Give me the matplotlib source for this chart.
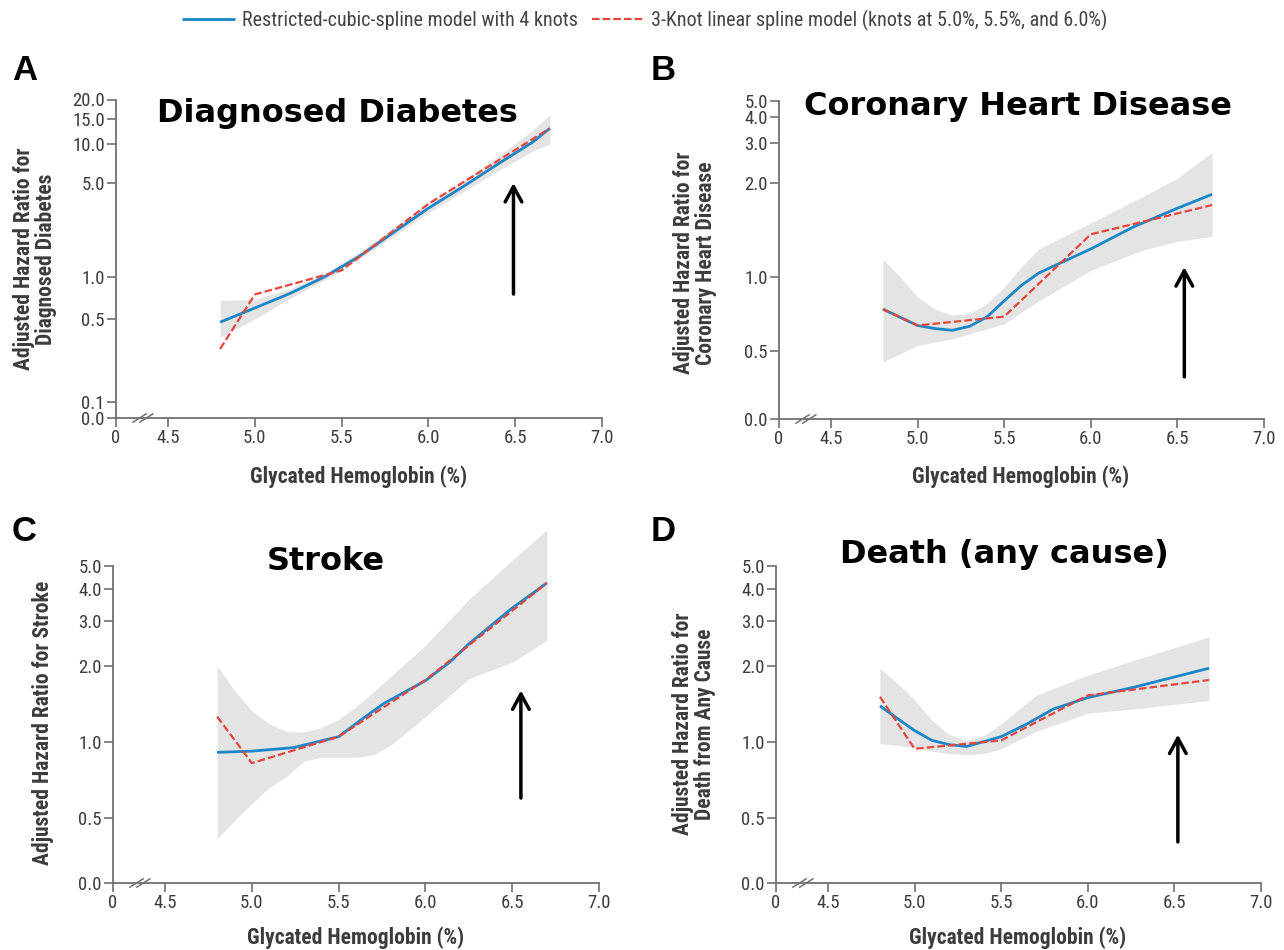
import numpy as np
import matplotlib
matplotlib.use("Agg")
import matplotlib.pyplot as plt
from matplotlib import font_manager as fm

# ---------------- data ----------------
x_ticks = [0, 4.5, 5.0, 5.5, 6.0, 6.5, 7.0]
x_ticklabels = ["0", "4.5", "5.0", "5.5", "6.0", "6.5", "7.0"]

# Panel A - Diagnosed diabetes
A_yticks = [0.0, 0.1, 0.5, 1.0, 5.0, 10.0, 15.0, 20.0]
A_ylabels = ["0.0", "0.1", "0.5", "1.0", "5.0", "10.0", "15.0", "20.0"]
A_rcs_x = [4.8, 5.0, 5.2, 5.4, 5.6, 5.8, 6.0, 6.2, 6.4, 6.6, 6.7]
A_rcs_y = [0.47, 0.60, 0.76, 1.00, 1.42, 2.15, 3.25, 4.7, 7.0, 10.3, 12.9]
A_lin_x = [4.8, 5.0, 5.5, 6.0, 6.7]
A_lin_y = [0.28, 0.75, 1.12, 3.5, 12.9]
A_band_x = [4.8, 5.0, 5.2, 5.4, 5.6, 5.8, 6.0, 6.2, 6.4, 6.6, 6.7]
A_band_lo = [0.35, 0.50, 0.70, 0.95, 1.35, 2.02, 3.00, 4.30, 6.20, 8.80, 10.0]
A_band_hi = [0.68, 0.69, 0.82, 1.06, 1.52, 2.32, 3.55, 5.20, 8.00, 12.5, 16.0]
A_arrow = (6.49, 0.755, 5.0)

# Panel B - Coronary heart disease
B_yticks = [0.0, 0.5, 1.0, 2.0, 3.0, 4.0, 5.0]
B_ylabels = ["0.0", "0.5", "1.0", "2.0", "3.0", "4.0", "5.0"]
B_rcs_x = [4.8, 5.0, 5.1, 5.2, 5.3, 5.4, 5.5, 5.6, 5.7, 6.0, 6.25, 6.5, 6.7]
B_rcs_y = [0.74, 0.635, 0.617, 0.607, 0.63, 0.687, 0.80, 0.925, 1.03, 1.23, 1.45, 1.66, 1.84]
B_lin_x = [4.8, 5.0, 5.5, 6.0, 6.7]
B_lin_y = [0.74, 0.635, 0.69, 1.37, 1.70]
B_band_x = [4.8, 4.9, 5.0, 5.1, 5.2, 5.3, 5.4, 5.5, 5.6, 5.7, 6.0, 6.3, 6.5, 6.7]
B_band_lo = [0.42, 0.48, 0.527, 0.544, 0.56, 0.587, 0.615, 0.645, 0.72, 0.80, 1.05, 1.22, 1.30, 1.35]
B_band_hi = [1.14, 1.00, 0.83, 0.74, 0.70, 0.71, 0.78, 0.91, 1.08, 1.23, 1.49, 1.81, 2.10, 2.73]
B_arrow = (6.54, 0.31, 1.075)

# Panel C - Stroke
C_yticks = [0.0, 0.5, 1.0, 2.0, 3.0, 4.0, 5.0]
C_ylabels = ["0.0", "0.5", "1.0", "2.0", "3.0", "4.0", "5.0"]
C_rcs_x = [4.8, 5.0, 5.24, 5.5, 5.64, 5.76, 6.0, 6.14, 6.25, 6.37, 6.5, 6.7]
C_rcs_y = [0.91, 0.92, 0.95, 1.05, 1.24, 1.42, 1.75, 2.07, 2.44, 2.85, 3.37, 4.24]
C_lin_x = [4.8, 5.0, 5.5, 6.0, 6.7]
C_lin_y = [1.26, 0.825, 1.05, 1.76, 4.24]
C_band_x = [4.8, 4.9, 5.0, 5.1, 5.2, 5.3, 5.4, 5.5, 5.6, 5.7, 5.8, 6.0, 6.25, 6.5, 6.7]
C_band_lo = [0.34, 0.48, 0.57, 0.66, 0.73, 0.84, 0.87, 0.87, 0.87, 0.89, 0.97, 1.26, 1.78, 2.07, 2.52]
C_band_hi = [2.0, 1.6, 1.33, 1.18, 1.10, 1.095, 1.14, 1.23, 1.38, 1.58, 1.82, 2.41, 3.64, 5.3, 7.1]
C_arrow = (6.55, 0.60, 1.60)

# Panel D - Death (any cause)
D_yticks = [0.0, 0.5, 1.0, 2.0, 3.0, 4.0, 5.0]
D_ylabels = ["0.0", "0.5", "1.0", "2.0", "3.0", "4.0", "5.0"]
D_rcs_x = [4.8, 4.9, 5.0, 5.1, 5.2, 5.3, 5.5, 5.65, 5.8, 6.0, 6.27, 6.7]
D_rcs_y = [1.39, 1.24, 1.11, 1.015, 0.976, 0.96, 1.05, 1.18, 1.35, 1.50, 1.65, 1.96]
D_lin_x = [4.8, 5.0, 5.5, 6.0, 6.7]
D_lin_y = [1.51, 0.94, 1.015, 1.53, 1.76]
D_band_x = [4.8, 4.9, 5.0, 5.1, 5.2, 5.3, 5.4, 5.5, 5.7, 6.0, 6.3, 6.7]
D_band_lo = [0.985, 0.97, 0.95, 0.92, 0.90, 0.89, 0.90, 0.94, 1.10, 1.30, 1.36, 1.46]
D_band_hi = [1.96, 1.71, 1.47, 1.22, 1.07, 1.015, 1.06, 1.18, 1.53, 1.84, 2.14, 2.60]
D_arrow = (6.52, 0.316, 1.07)

titles = ["Diagnosed Diabetes", "Coronary Heart Disease", "Stroke", "Death (any cause)"]
letters = ["A", "B", "C", "D"]
ylabel_texts = ["Adjusted Hazard Ratio for\nDiagnosed Diabetes",
                "Adjusted Hazard Ratio for\nCoronary Heart Disease",
                "Adjusted Hazard Ratio for Stroke",
                "Adjusted Hazard Ratio for\nDeath from Any Cause"]
xlabel_text = "Glycated Hemoglobin (%)"
legend_labels = ["Restricted-cubic-spline model with 4 knots",
                 "3-Knot linear spline model (knots at 5.0%, 5.5%, and 6.0%)"]

# ---------------- layout / style ----------------
W, H = 1284, 950
# pixel heights of tick positions above the 0.0 line (stretched log axis)
A_tick_pos = [0, 16, 99, 141, 235, 274, 299, 318.5]
B_tick_pos = [0, 68, 142, 236, 276, 302, 318]
C_tick_pos = [0, 65, 141, 217, 262, 294, 317]
D_tick_pos = [0, 65, 141, 217, 262, 294, 317]

# axes boxes in pixels (left, right, bottom, top)
boxes = [(116, 602, 418, 99.5), (779, 1264, 419, 101),
         (113, 599, 883, 566), (776, 1261, 883, 566)]

BLUE = "#1a86c8"
RED = "#e8453c"
BAND = "#e4e4e4"
AXC = "#707070"
TXT = "#3c3c3c"


def font_exists(name):
    try:
        fm.findfont(fm.FontProperties(family=name), fallback_to_default=False)
        return True
    except Exception:
        return False


NARROW = None
for cand in ["Liberation Sans Narrow", "Roboto Condensed", "Open Sans Condensed", "Arial Narrow"]:
    if font_exists(cand):
        NARROW = cand
        break
if NARROW is None:
    NARROW = "Roboto"
    size_fac = 0.85
else:
    size_fac = 1.0

TICK_FS = 13.5 * size_fac
LAB_FS = 15.5 * size_fac
LEG_FS = 14.5 * size_fac


def make_yscale(vals, pos):
    vals = np.asarray(vals, float)
    pos = np.asarray(pos, float)
    lv = np.log10(vals[1:])
    lp = pos[1:]
    s_top = (lp[-1] - lp[-2]) / (lv[-1] - lv[-2])
    v1, p0, p1 = vals[1], pos[0], lp[0]

    def fwd(v):
        v = np.asarray(v, dtype=float)
        shp = v.shape
        v = np.atleast_1d(v).astype(float)
        out = p0 + (p1 - p0) * v / v1
        m = v > v1
        if np.any(m):
            lvv = np.log10(v[m])
            r = np.interp(lvv, lv, lp)
            a = lvv > lv[-1]
            r[a] = lp[-1] + (lvv[a] - lv[-1]) * s_top
            out[m] = r
        return out.reshape(shp)

    def inv(p):
        p = np.asarray(p, dtype=float)
        shp = p.shape
        p = np.atleast_1d(p).astype(float)
        out = (p - p0) / (p1 - p0) * v1
        m = p > p1
        if np.any(m):
            pp = p[m]
            r = np.interp(pp, lp, lv)
            a = pp > lp[-1]
            r[a] = lv[-1] + (pp[a] - lp[-1]) / s_top
            out[m] = 10 ** r
        return out.reshape(shp)

    return fwd, inv


def xfwd(x):
    x = np.asarray(x, dtype=float)
    return np.where(x < 4.5, 4.2 + x * (0.3 / 4.5), x)


def xinv(t):
    t = np.asarray(t, dtype=float)
    return np.where(t < 4.5, (t - 4.2) * 15.0, t)


fig = plt.figure(figsize=(W / 100, H / 100), dpi=100)

panels = [
    (A_yticks, A_ylabels, A_tick_pos, A_rcs_x, A_rcs_y, A_lin_x, A_lin_y, A_band_x, A_band_lo, A_band_hi, A_arrow),
    (B_yticks, B_ylabels, B_tick_pos, B_rcs_x, B_rcs_y, B_lin_x, B_lin_y, B_band_x, B_band_lo, B_band_hi, B_arrow),
    (C_yticks, C_ylabels, C_tick_pos, C_rcs_x, C_rcs_y, C_lin_x, C_lin_y, C_band_x, C_band_lo, C_band_hi, C_arrow),
    (D_yticks, D_ylabels, D_tick_pos, D_rcs_x, D_rcs_y, D_lin_x, D_lin_y, D_band_x, D_band_lo, D_band_hi, D_arrow),
]

# text positions (pixels)
title_pos = [(337, 122), (1018, 115), (326, 570), (1004, 563)]
letter_pos = [(12, 80), (651, 80), (12, 541), (651, 541)]
ylabel_pos = [(35, 259), (695, 263), (43, 723), (694, 724)]
xlabel_pos = [(359, 477), (1021, 477), (356, 938), (1018, 938)]

handles = None
for i, (yt, yl, tp, rx, ry, lx, ly, bx, blo, bhi, arr) in enumerate(panels):
    l, r, b, t = boxes[i]
    ax = fig.add_axes([l / W, 1 - b / H, (r - l) / W, (b - t) / H])
    fwd, inv = make_yscale(yt, tp)
    ax.set_yscale("function", functions=(fwd, inv))
    ax.set_xscale("function", functions=(xfwd, xinv))
    ax.set_xlim(0, 7.0)
    ax.set_ylim(0, yt[-1])

    ax.fill_between(bx, blo, bhi, color=BAND, lw=0, zorder=1, clip_on=False)
    hb, = ax.plot(rx, ry, color=BLUE, lw=2.0, zorder=3, solid_capstyle="butt",
                  solid_joinstyle="round")
    hr, = ax.plot(lx, ly, color=RED, lw=1.6, ls=(0, (3.4, 1.4)), zorder=4)
    if handles is None:
        handles = [hb, hr]

    ax.annotate("", xy=(arr[0], arr[2]), xytext=(arr[0], arr[1]),
                arrowprops=dict(arrowstyle="->,head_length=1.1,head_width=0.6",
                                lw=2.5, color="black", shrinkA=0, shrinkB=0),
                zorder=5)

    ax.set_yticks(yt)
    ax.set_yticklabels(yl)
    ax.set_xticks(x_ticks)
    ax.set_xticklabels(x_ticklabels)
    ax.yaxis.set_minor_locator(matplotlib.ticker.NullLocator())
    ax.xaxis.set_minor_locator(matplotlib.ticker.NullLocator())
    for s in ["top", "right"]:
        ax.spines[s].set_visible(False)
    for s in ["left", "bottom"]:
        ax.spines[s].set_color(AXC)
        ax.spines[s].set_linewidth(1.3)
    ax.tick_params(axis="both", direction="out", length=6.5, width=1.2, color=AXC,
                   labelcolor=TXT, labelsize=TICK_FS, pad=1.5)
    for lab in ax.get_xticklabels() + ax.get_yticklabels():
        lab.set_fontfamily(NARROW)
    ax.patch.set_alpha(0)

    # axis break marks on the x axis
    for x0 in (0.035, 0.049):
        ax.plot([x0, x0 + 0.027], [-0.013, 0.013], transform=ax.transAxes,
                color=AXC, lw=1.1, clip_on=False, zorder=6)

    tx, ty = title_pos[i]
    fig.text(tx / W, 1 - ty / H, titles[i], ha="center", va="baseline",
             fontsize=23, fontweight="bold", family="DejaVu Sans", color="black")
    lx_, ly_ = letter_pos[i]
    fig.text(lx_ / W, 1 - ly_ / H, letters[i], ha="left", va="baseline",
             fontsize=25, fontweight="bold", family="Liberation Sans", color="black")
    yx, yy = ylabel_pos[i]
    fig.text(yx / W, 1 - yy / H, ylabel_texts[i], rotation=90, ha="center", va="center",
             multialignment="center", fontsize=LAB_FS, fontweight="bold",
             family=NARROW, color=TXT, linespacing=1.0)
    xx, xy = xlabel_pos[i]
    fig.text(xx / W, 1 - xy / H, xlabel_text, ha="center", va="center",
             fontsize=LAB_FS, fontweight="bold", family=NARROW, color=TXT)

leg = fig.legend(handles, legend_labels, loc="center", bbox_to_anchor=(645 / W, 1 - 20 / H),
                 ncol=2, frameon=False, handlelength=2.6, handletextpad=0.35,
                 columnspacing=0.7, prop=fm.FontProperties(family=NARROW, size=LEG_FS),
                 labelcolor="#444444")

fig.savefig("out.png", dpi=100)
